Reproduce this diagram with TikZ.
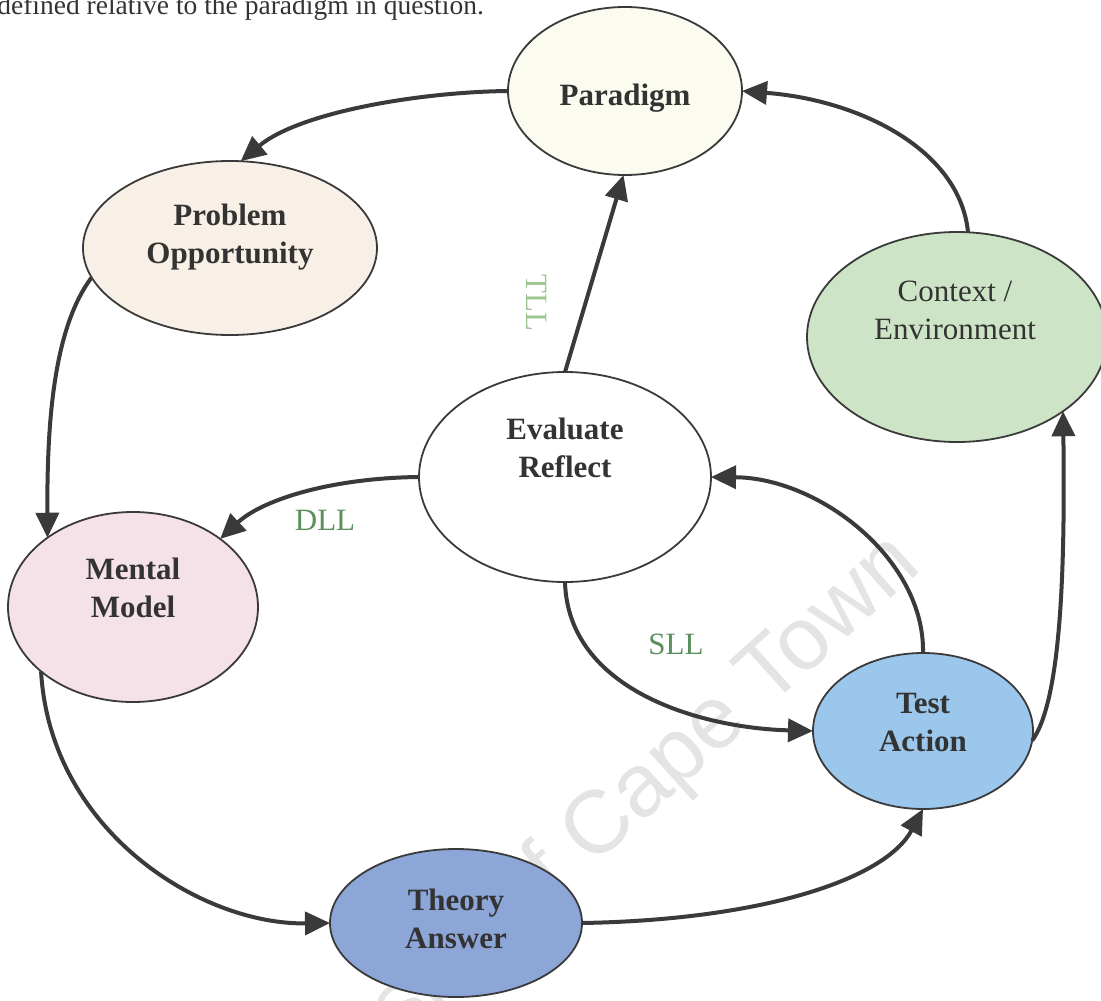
\documentclass[tikz,border=0pt]{standalone}
\usepackage{fontspec}
\setmainfont{Liberation Serif}
\newfontfamily\wmfont{Liberation Sans}
\usetikzlibrary{shapes.geometric,arrows.meta}
\definecolor{linec}{HTML}{3A3A3A}
\definecolor{txtc}{HTML}{333333}
\definecolor{paraC}{HTML}{FCFBF0}
\definecolor{poC}{HTML}{F8F0E6}
\definecolor{ctxC}{HTML}{CDE5C6}
\definecolor{mmC}{HTML}{F5E1E8}
\definecolor{testC}{HTML}{9CC7EC}
\definecolor{thC}{HTML}{8DA6D8}
\definecolor{lblG}{HTML}{5B8F5E}
\definecolor{tllG}{HTML}{9CC690}
\definecolor{wmC}{HTML}{E4E4E4}
\tikzset{
  ell/.style={ellipse, draw=linec, line width=1.8pt, inner sep=0pt, outer sep=0pt},
  lbl/.style={font=\fontsize{31}{38}\selectfont\bfseries, text=txtc, align=center, inner sep=0pt},
  llabel/.style={font=\fontsize{31}{38}\selectfont, inner sep=0pt},
  conn/.style={draw=linec, line width=4pt, -{Triangle[length=25pt,width=23pt]}}
}
\begin{document}
\begin{tikzpicture}[x=1pt,y=-1pt]
\useasboundingbox (0,0) rectangle (1101,1001);
\clip (0,0) rectangle (1101,1001);
\fill[white] (0,0) rectangle (1101,1001);
% watermark
\node[font=\wmfont\fontsize{89}{100}\selectfont, text=wmC, rotate=42, anchor=base west, inner sep=0pt] (wm) at (210,1212) {University of Cape Town};
% heading text (cut off)
\node[font=\fontsize{27.5}{33}\selectfont, text=txtc, anchor=base east, inner sep=0pt] (head) at (484,14) {defined relative to the paradigm in question.};
% ellipses
\node[ell, fill=paraC, minimum width=234pt, minimum height=168pt] (para) at (625,91) {};
\node[lbl] (paraT) at (625,98) {Paradigm};
\node[ell, fill=poC, minimum width=294pt, minimum height=174pt] (po) at (230,248) {};
\node[lbl] (poT) at (230,237) {Problem\\Opportunity};
\node[ell, fill=ctxC, minimum width=300pt, minimum height=210pt] (ctx) at (957,337) {};
\node[lbl, font=\fontsize{31}{38}\selectfont] (ctxT) at (955,310) {Context /\\Environment};
\node[ell, fill=white, minimum width=292pt, minimum height=210pt] (er) at (565,477) {};
\node[lbl] (erT) at (565,448) {Evaluate\\Reflect};
\node[ell, fill=mmC, minimum width=250pt, minimum height=190pt] (mm) at (133,607) {};
\node[lbl] (mmT) at (133,588) {Mental\\Model};
\node[ell, fill=testC, minimum width=220pt, minimum height=156pt] (test) at (923,731) {};
\node[lbl] (testT) at (923,722) {Test\\Action};
\node[ell, fill=thC, minimum width=252pt, minimum height=148pt] (th) at (456,923) {};
\node[lbl] (thT) at (456,919) {Theory\\Answer};
% loop labels
\node[llabel, text=lblG] (dll) at (325,520) {DLL};
\node[llabel, text=lblG] (sll) at (676,644) {SLL};
\node[llabel, text=tllG, rotate=-90] (tll) at (537,303) {TLL};
% connectors
\draw[conn] (para.180) .. controls (420,92) and (300,112) .. (po.83);
\draw[conn] (po.192) .. controls (52,330) and (47,430) .. (mm.141);
\draw[conn] (er.180) .. controls (330,478) and (262,500) .. (mm.38);
\draw[conn] (er.90) -- (para.269);
\draw[conn] (ctx.84) .. controls (960,150) and (860,100) .. (para.0);
\draw[conn] (test.-5) .. controls (1062,700) and (1065,560) .. (ctx.-35);
\draw[conn] (test.90) .. controls (925,560) and (820,478) .. (er.0);
\draw[conn] (er.270) .. controls (568,690) and (700,728) .. (test.180);
\draw[conn] (mm.215) .. controls (50,830) and (200,925) .. (th.180);
\draw[conn] (th.0) .. controls (760,920) and (885,880) .. (test.270);
\end{tikzpicture}
\end{document}
